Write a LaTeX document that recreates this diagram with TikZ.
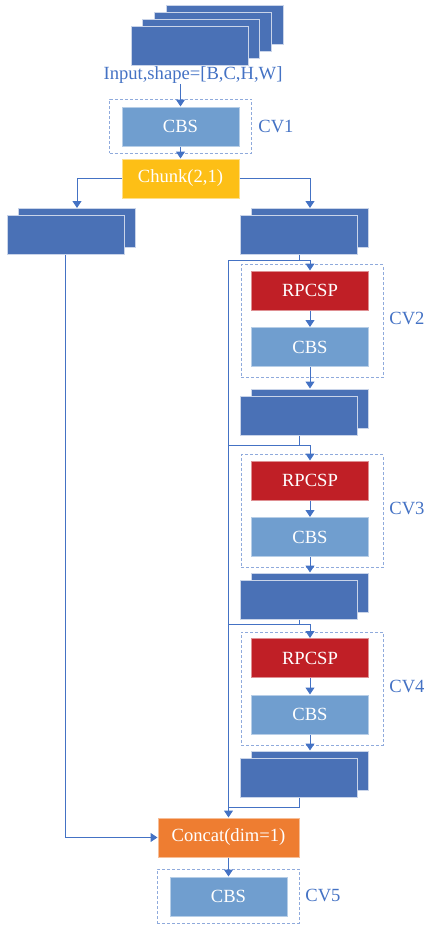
\documentclass[tikz,border=0pt]{standalone}
\usepackage{fontspec}
\setmainfont{Liberation Serif}
\usetikzlibrary{arrows.meta}
\definecolor{featblue}{HTML}{4A71B6}
\definecolor{cbsblue}{HTML}{709ECF}
\definecolor{rpred}{HTML}{C01F26}
\definecolor{chunkyellow}{HTML}{FDBF16}
\definecolor{catorange}{HTML}{EE7D31}
\definecolor{lineblue}{HTML}{4472C4}
\definecolor{dashblue}{HTML}{8FAADC}
\tikzset{
  blk/.style={minimum width=58.5pt, minimum height=19.5pt, inner sep=0pt, text=white, line width=0.5pt},
  feat/.style={blk, fill=featblue, draw=white!70!featblue},
  cbs/.style={blk, fill=cbsblue, draw=white!50!cbsblue},
  rpcsp/.style={blk, fill=rpred, draw=white!50!rpred},
  chunkbox/.style={blk, fill=chunkyellow, draw=white!50!chunkyellow},
  catbox/.style={blk, minimum width=70.5pt, fill=catorange, draw=white!50!catorange},
  cvbox/.style={draw=dashblue, line width=0.5pt, dash pattern=on 1.5pt off 1pt, minimum width=71pt, inner sep=0pt},
  cvlabel/.style={anchor=west, text=lineblue, inner sep=0pt},
  wire/.style={draw=lineblue, line width=0.5pt},
  arr/.style={wire, -{Triangle[width=4.5pt,length=3.5pt]}},
}
\begin{document}
\begin{tikzpicture}[x=0.5pt, y=-0.5pt, font=\fontsize{9.3}{11}\selectfont]
    \useasboundingbox (0,0) rectangle (424,926);
    % input feature maps
    \foreach \i in {3,2,1,0}
        \node[feat] (in\i) at ({189.5+11.7*\i},{45.5-6.8*\i}) {};
    \node[text=lineblue, inner sep=0pt] (intxt) at (193,75) {Input,shape=[B,C,H,W]};

    % CV1 and chunk
    \node[cvbox, minimum height=27pt] (cv1) at (180.5,126) {};
    \node[cbs] (cbs1) at (180.5,126.5) {CBS};
    \node[cvlabel] at (258,126) {CV1};
    \node[chunkbox] (chunk) at (180.5,178.5) {Chunk(2,1)};

    % two halves
    \node[feat] (lb) at (77,228) {};
    \node[feat] (lf) at (65.5,234.5) {};
    \node[feat] (rb) at (310,228) {};
    \node[feat] (rf) at (299,234.5) {};

    % CV2 - CV4
    \foreach \k/\y/\s in {2/290.5/408.5, 3/480.5/592.5, 4/658/770.5}
    {
        \node[cvbox, minimum height=56.5pt] (cv\k) at (312,\y+30.5) {};
        \node[rpcsp] (rp\k) at (310,\y) {RPCSP};
        \node[cbs] (cbs\k) at (310,\y+56.5) {CBS};
        \node[cvlabel] at (389,\y+28) {CV\k};
        \node[feat] (fb\k) at (310,\s) {};
        \node[feat] (ff\k) at (299,\s+7) {};
        \draw[arr] (rp\k) -- (cbs\k);
        \draw[arr] (cbs\k) -- (fb\k);
    }

    % concat and CV5
    \node[catbox] (concat) at (228.5,837.5) {Concat(dim=1)};
    \node[cvbox, minimum height=27pt] (cv5) at (228,896) {};
    \node[cbs] (cbs5) at (228.5,896.5) {CBS};
    \node[cvlabel] at (305,895) {CV5};

    % junctions on the right branch
    \coordinate (j2) at (299,260);
    \coordinate (j3) at (299,445);
    \coordinate (j4) at (299,624);
    \coordinate (j5) at (299,807);

    \draw[arr] (cbs1.north |- intxt.south) -- (cbs1.north);
    \draw[arr] (cbs1) -- (chunk);
    \draw[arr] (chunk.west) -| (lb.north);
    \draw[arr] (chunk.east) -| (rb.north);
    \draw[arr] (lf.south) |- (concat.west);
    \draw[arr] (rf.south) -- (j2) -| (rp2.north);
    \draw[arr] (j2) -| (concat.north);
    \draw[arr] (ff2.south) -- (j3) -| (rp3.north);
    \draw[wire] (j3) -- (j3 -| concat.north);
    \draw[arr] (ff3.south) -- (j4) -| (rp4.north);
    \draw[wire] (j4) -- (j4 -| concat.north);
    \draw[wire] (ff4.south) -- (j5) -- (j5 -| concat.north);
    \draw[arr] (concat) -- (cbs5);
\end{tikzpicture}
\end{document}
